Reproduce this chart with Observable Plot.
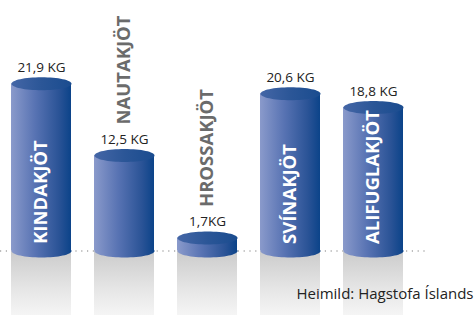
<!DOCTYPE html>
<html><head><meta charset="utf-8">
<script src="https://cdn.jsdelivr.net/npm/d3@7"></script>
<script src="https://cdn.jsdelivr.net/npm/@observablehq/plot@0.6"></script>
<style>
html,body{margin:0;padding:0;background:#fff;}
g[aria-label="cat-in"] text, g[aria-label="cat-out"] text{letter-spacing:1px;}
</style>
</head><body><div id="chart"></div>
<script>
const categories = ["KINDAKJÖT","NAUTAKJÖT","HROSSAKJÖT","SVÍNAKJÖT","ALIFUGLAKJÖT"];
const values = [21.9, 12.5, 1.7, 20.6, 18.8];
const valueLabels = ["21,9 KG","12,5 KG","1,7KG","20,6 KG","18,8 KG"];
const source = "Heimild: Hagstofa Íslands";

const data = categories.map((c, i) => ({cat: c, value: values[i], label: valueLabels[i], inside: values[i] > 15}));

const ellipse = {
  draw(ctx) {
    const rx = 30, ry = 6.5, k = 0.5523;
    ctx.moveTo(rx, 0);
    ctx.bezierCurveTo(rx, k*ry, k*rx, ry, 0, ry);
    ctx.bezierCurveTo(-k*rx, ry, -rx, k*ry, -rx, 0);
    ctx.bezierCurveTo(-rx, -k*ry, -k*rx, -ry, 0, -ry);
    ctx.bezierCurveTo(k*rx, -ry, rx, -k*ry, rx, 0);
    ctx.closePath();
  }
};

const plot = Plot.plot({
  width: 475, height: 315,
  marginTop: 0, marginBottom: 0, marginLeft: 0, marginRight: 50,
  style: {fontFamily: "'Open Sans', sans-serif", background: "#fff"},
  x: {type: "band", domain: categories, range: [11, 404], paddingInner: 0.277, paddingOuter: 0, axis: null},
  y: {domain: [0, 30], range: [250.5, 21.5], axis: null},
  marks: [
    Plot.ruleY([0], {stroke: "#a8a8a8", strokeDasharray: "1.2,4.6", strokeWidth: 1.3}),
    Plot.barY(data, {x: "cat", y1: 0, y2: -8.5, fill: "url(#refl)"}),
    Plot.dot(data, {x: "cat", y: 0, symbol: ellipse, fill: "url(#body)", stroke: null}),
    Plot.barY(data, {x: "cat", y1: 0, y2: "value", fill: "url(#body)"}),
    Plot.dot(data, {x: "cat", y: "value", symbol: ellipse, fill: "url(#top)", stroke: null}),
    Plot.text(data, {x: "cat", y: "value", text: "label", dy: -16, fontSize: 13.5, fill: "#222"}),
    Plot.text(data.filter(d => d.inside), {x: "cat", y: 0, text: "cat", rotate: -90, textAnchor: "start", dy: -7, fill: "white", fontWeight: "bold", fontSize: 18.5, ariaLabel: "cat-in"}),
    Plot.text(data.filter(d => !d.inside), {x: "cat", y: "value", text: "cat", rotate: -90, textAnchor: "start", dy: -31, fill: "#6b6b6b", fontWeight: "bold", fontSize: 18.5, ariaLabel: "cat-out"}),
    Plot.text([source], {frameAnchor: "bottom-right", dx: 48, dy: -17, fontSize: 15, fill: "#222"})
  ]
});

d3.select(plot).insert("defs", ":first-child").html(`
  <linearGradient id="body" x1="0" x2="1" y1="0" y2="0">
    <stop offset="0" stop-color="#8a9acb"/>
    <stop offset="0.4" stop-color="#5873b3"/>
    <stop offset="0.8" stop-color="#2a5396"/>
    <stop offset="1" stop-color="#0b4389"/>
  </linearGradient>
  <linearGradient id="top" x1="0" x2="1" y1="0" y2="0">
    <stop offset="0" stop-color="#4466a6"/>
    <stop offset="0.5" stop-color="#2b5697"/>
    <stop offset="1" stop-color="#1a4c8f"/>
  </linearGradient>
  <linearGradient id="refl" x1="0" x2="0" y1="0" y2="1">
    <stop offset="0" stop-color="#cbcbcb"/>
    <stop offset="0.6" stop-color="#e6e6e6"/>
    <stop offset="1" stop-color="#f5f5f5"/>
  </linearGradient>
`);

document.getElementById("chart").appendChild(plot);
</script>
</body></html>
